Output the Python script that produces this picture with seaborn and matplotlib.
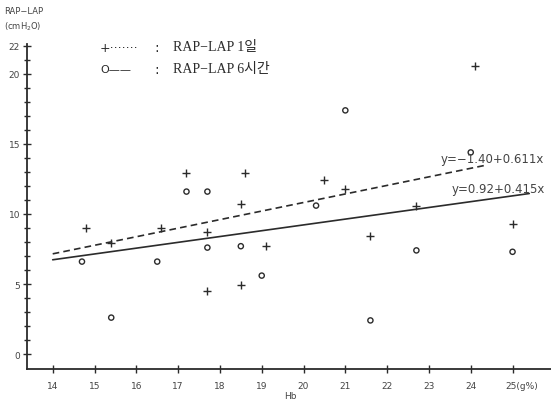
import numpy as np
import pandas as pd
import seaborn as sns
import matplotlib
matplotlib.use("Agg")
import matplotlib.pyplot as plt
from matplotlib.transforms import ScaledTranslation

# Hb (g%) and RAP-LAP difference (cmH2O), day 1 (+) and 6 hours (o)
plus_hb = [14.8, 15.4, 16.6, 17.2, 18.6, 18.5, 17.7, 19.1, 17.7, 18.5,
           20.5, 21.0, 21.6, 22.7, 25.0, 24.1]
plus_diff = [9.0, 7.9, 9.0, 12.9, 12.9, 10.7, 8.7, 7.7, 4.5, 4.9,
             12.4, 11.8, 8.4, 10.6, 9.3, 20.6]
circle_hb = [14.7, 15.4, 16.5, 17.2, 17.7, 17.7, 18.5, 19.0, 20.3, 21.0,
             21.6, 22.7, 24.0, 25.0]
circle_diff = [6.6, 2.6, 6.6, 11.6, 11.6, 7.6, 7.7, 5.6, 10.6, 17.4,
               2.4, 7.4, 14.4, 7.3]

# regression lines: intercept, slope, drawn Hb range
fit_day1 = (-1.40, 0.611)
fit_day1_range = [14.0, 24.4]
fit_6h = (0.92, 0.415)
fit_6h_range = [14.0, 25.4]

x_ticks = [14, 15, 16, 17, 18, 19, 20, 21, 22, 23, 24, 25]
x_tick_labels = ["14", "15", "16", "17", "18", "19", "20", "21", "22", "23", "24", "25(g%)"]
y_ticks = [0, 5, 10, 15, 20, 22]

sns.set_theme(style="white")
plt.rcParams["font.family"] = ["DejaVu Sans", "Noto Sans CJK KR"]

ink = "#2b2b2b"
grey = "#444444"
fig = plt.figure(figsize=(5.51, 4.06), dpi=100)
ax = fig.add_axes([27 / 551, 36 / 406, 524 / 551, 325 / 406])

df_plus = pd.DataFrame({"Hb": plus_hb, "diff": plus_diff})
df_circ = pd.DataFrame({"Hb": circle_hb, "diff": circle_diff})

sns.scatterplot(data=df_plus, x="Hb", y="diff", marker="+", s=30,
                color=ink, linewidth=1.0, ax=ax, zorder=3)
sns.scatterplot(data=df_circ, x="Hb", y="diff", marker="o", s=14,
                facecolor="none", edgecolor=ink, linewidth=1.0, ax=ax, zorder=3)

x1 = np.array(fit_day1_range)
df_l1 = pd.DataFrame({"Hb": x1, "diff": fit_day1[0] + fit_day1[1] * x1})
x2 = np.array(fit_6h_range)
df_l2 = pd.DataFrame({"Hb": x2, "diff": fit_6h[0] + fit_6h[1] * x2})
sns.lineplot(data=df_l1, x="Hb", y="diff", color=ink, linewidth=1.2,
             ax=ax, linestyle=(0, (4, 2.5)))
sns.lineplot(data=df_l2, x="Hb", y="diff", color=ink, linewidth=1.2, ax=ax)

ax.set_xlim(13.385, 25.92)
ax.set_ylim(-1.07, 22.14)
ax.set_xticks(x_ticks)
ax.set_xticklabels(x_tick_labels)
ax.set_yticks(y_ticks)
ax.set_yticks(range(0, 23), minor=True)
ax.tick_params(axis="both", which="both", direction="inout", color=ink,
               labelcolor=grey, labelsize=6.5, width=1.0)
ax.tick_params(axis="x", which="major", length=6, pad=6)
ax.tick_params(axis="y", which="major", length=6, pad=2)
ax.tick_params(axis="y", which="minor", length=5, left=True)
ax.tick_params(left=True, bottom=True)

lbl = ax.get_xticklabels()[-1]
lbl.set_horizontalalignment("left")
lbl.set_transform(lbl.get_transform() + ScaledTranslation(-5 / 72, 0, fig.dpi_scale_trans))

for side in ("top", "right"):
    ax.spines[side].set_visible(False)
for side in ("left", "bottom"):
    ax.spines[side].set_color(ink)
    ax.spines[side].set_linewidth(1.3)

ax.set_xlabel("Hb", fontsize=6.5, color=grey)
ax.xaxis.set_label_coords(0.502, -0.083)
ax.xaxis.label.set_va("center")
ax.set_ylabel("")

fig.text(4 / 551, 1 - 12 / 406, "RAP−LAP", fontsize=6, color=grey, va="center")
fig.text(4 / 551, 1 - 27 / 406, "(cmH$_2$O)", fontsize=6, color=grey, va="center")

# equation labels
ax.text(23.27, 13.95, "y=−1.40+0.611x", fontsize=8.5, color=grey, va="center", ha="left")
ax.text(23.55, 11.85, "y=0.92+0.415x", fontsize=8.5, color=grey, va="center", ha="left")

# key
serif = ["Liberation Serif", "Noto Sans CJK KR"]
fig.text(100 / 551, 1 - 48 / 406, "+·······", fontsize=9, color=ink, va="center")
fig.text(100 / 551, 1 - 70 / 406, "O——", fontsize=8, color=ink, va="center")
fig.text(154 / 551, 1 - 48 / 406, ":", fontsize=10, color=ink, va="center")
fig.text(154 / 551, 1 - 70 / 406, ":", fontsize=10, color=ink, va="center")
fig.text(173 / 551, 1 - 48 / 406, "RAP−LAP 1일", fontsize=10, color=ink, va="center", family=serif)
fig.text(173 / 551, 1 - 70 / 406, "RAP−LAP 6시간", fontsize=10, color=ink, va="center", family=serif)

fig.savefig("out.png", dpi=100)
